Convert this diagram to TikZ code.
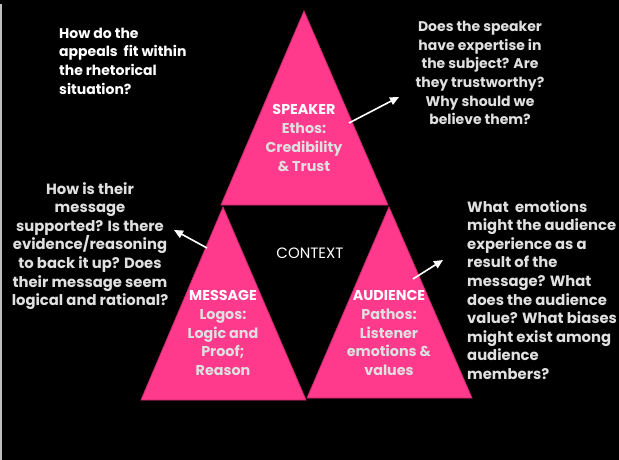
\documentclass[tikz,border=0pt]{standalone}
\usepackage{fontspec}
\setmainfont{Poppins}
\usetikzlibrary{arrows.meta}
\definecolor{pinkfill}{HTML}{FF3A8C}
\definecolor{pinkedge}{HTML}{C92A6E}
\definecolor{lightgray}{HTML}{E0E0E0}
\begin{document}
\begin{tikzpicture}[x=1pt,y=-1pt,
  tri/.style={fill=pinkfill,draw=pinkedge,line width=0.8pt,line join=miter},
  q/.style={text=lightgray,inner sep=0pt,font=\bfseries\fontsize{14}{18.6}\selectfont},
  qbig/.style={q,font=\bfseries\fontsize{14.8}{18.6}\selectfont},
  lbl/.style={text=lightgray,align=center,inner sep=0pt,font=\bfseries\fontsize{14.3}{18.7}\selectfont},
  arr/.style={white,line width=1.6pt,-{Triangle[length=9pt,width=8pt]}}]
\fill[black] (0,0) rectangle (619,460);
\useasboundingbox (0,0) rectangle (619,460);
\draw[gray!50,line width=1.2pt] (1,4) -- (1,460);
% triangles
\draw[tri] (304,11) -- (388,205) -- (221,205) -- cycle;
\draw[tri] (223,207) -- (306,400) -- (141,400) -- cycle;
\draw[tri] (389,207) -- (472,398) -- (307,398) -- cycle;
% labels in triangles
\node[lbl] (speaker) at (304,138) {{\color{white}SPEAKER}\\Ethos:\\Credibility\\\& Trust};
\node[lbl] (message) at (223,333) {{\color{white}MESSAGE}\\Logos:\\Logic and\\Proof;\\Reason};
\node[lbl] (audience) at (389,333) {{\color{white}AUDIENCE}\\Pathos:\\Listener\\emotions \&\\values};
\node[text=white,inner sep=0pt,font=\fontsize{15}{17}\selectfont] (context) at (310,253) {CONTEXT};
% question texts
\node[q,text=white,align=left,anchor=west] (qsit) at (59,61) {How do the\\appeals\ \ fit within\\the rhetorical\\situation?};
\node[q,align=center] (qspk) at (480,73) {Does the speaker\\have expertise in\\the subject? Are\\they trustworthy?\\Why should we\\believe them?};
\node[qbig,align=center] (qmsg) at (90,246) {How is their\\message\\supported? Is there\\evidence/reasoning\\to back it up? Does\\their message seem\\logical and rational?};
\node[qbig,align=left,anchor=west] (qaud) at (467,290) {What\ \ emotions\\might the audience\\experience as a\\result of the\\message? What\\does the audience\\value? What biases\\might exist among\\audience\\members?};
% arrows
\coordinate (sa) at (349,123); \coordinate (sb) at (399,97);
\coordinate (ma) at (207,248); \coordinate (mb) at (174,230);
\coordinate (aa) at (413,279); \coordinate (ab) at (443,260);
\draw[arr] (sa) -- (sb);
\draw[arr] (ma) -- (mb);
\draw[arr] (aa) -- (ab);
\end{tikzpicture}
\end{document}
